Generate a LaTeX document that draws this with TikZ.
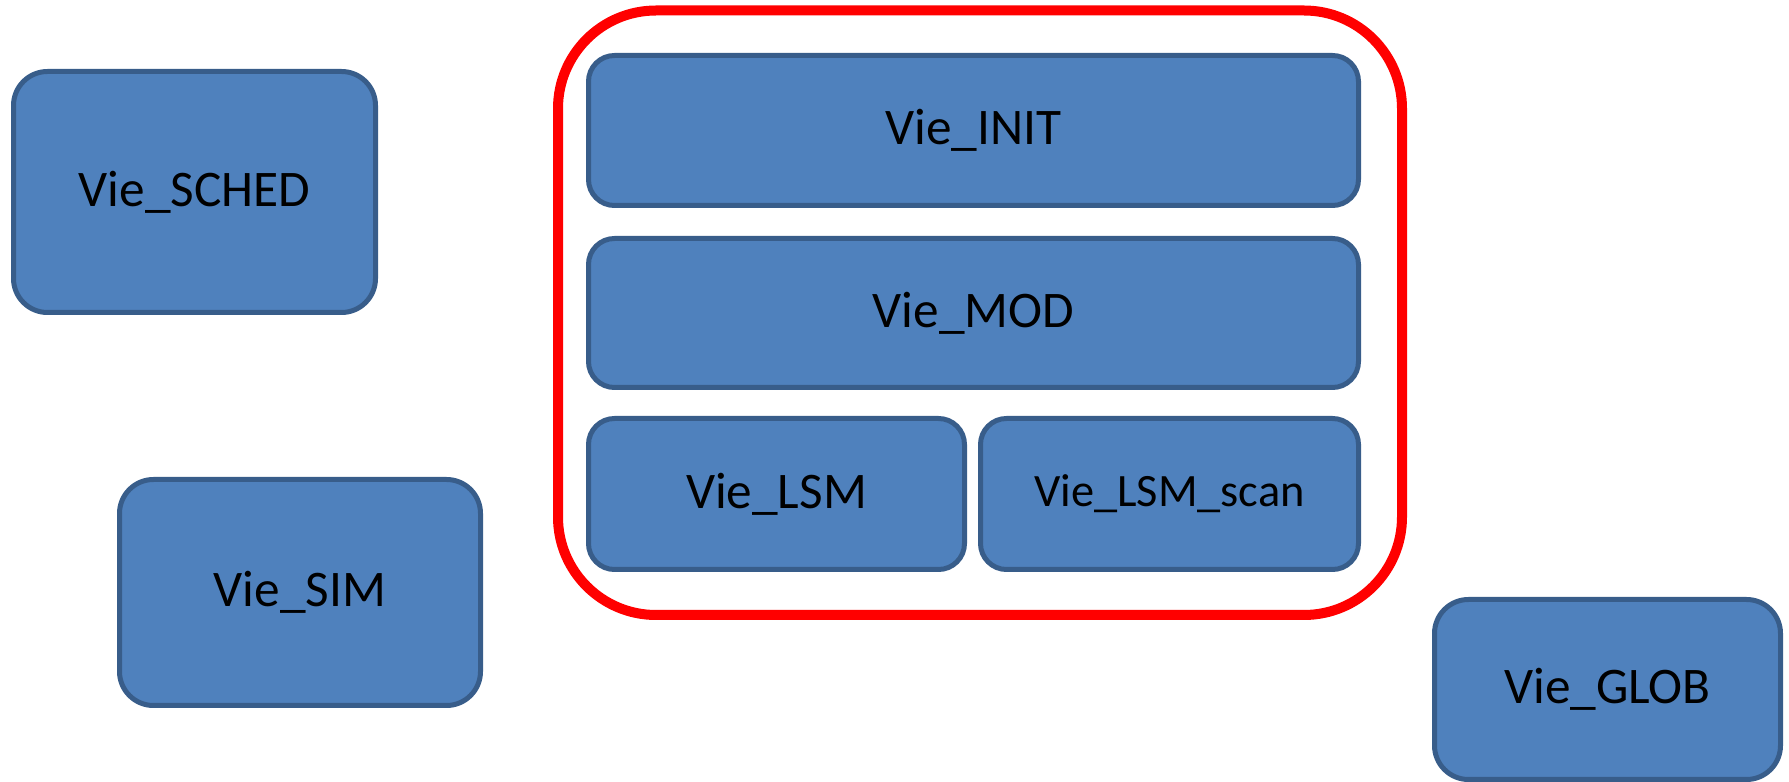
\documentclass[tikz,border=0pt]{standalone}
\usepackage{fontspec}
\setmainfont{Carlito}
\usepackage{xcolor}
\usepackage{tikz}
\usetikzlibrary{positioning}
\definecolor{viefill}{HTML}{4F81BD}
\definecolor{viedraw}{HTML}{385D8A}
\definecolor{vierouge}{HTML}{FF0000}

\begin{document}
\begin{tikzpicture}[
    x=1cm,y=1cm,
    vue/.style    = {rectangle,rounded corners=0.34cm,draw=viedraw,fill=viefill,
                     line width=0.05cm,align=center,font=\fontsize{14.6}{17}\selectfont,
                     text=black,inner sep=0pt},
    vuein/.style  = {vue,rounded corners=0.26cm},
    cadre/.style  = {rectangle,rounded corners=0.98cm,draw=vierouge,
                     line width=0.1cm,inner sep=0pt},
  ]
  \useasboundingbox (0,0) rectangle (17.89,7.82);

  % ── Cadre rouge ─────────────────────────────────────────────────────────
  \node[cadre,minimum width=8.44cm,minimum height=6.045cm] (cadre) at (9.80,4.6925) {};

  % ── Vues internes ───────────────────────────────────────────────────────
  \node[vuein,minimum width=7.70cm,minimum height=1.50cm] (init) at (9.735,6.515) {Vie\_INIT};
  \node[vuein,minimum width=7.70cm,minimum height=1.49cm] (mod) at (9.735,4.69) {Vie\_MOD};
  \node[vuein,minimum width=3.76cm,minimum height=1.51cm] (lsm) at (7.765,2.88) {Vie\_LSM};
  \node[vuein,minimum width=3.78cm,minimum height=1.51cm,
        font=\fontsize{13.2}{16}\selectfont] (lsmscan) at (11.695,2.88) {Vie\_LSM\_scan};

  % ── Vues externes ───────────────────────────────────────────────────────
  \node[vue,minimum width=3.62cm,minimum height=2.41cm] (sched) at (1.945,5.90) {Vie\_SCHED};
  \node[vue,minimum width=3.61cm,minimum height=2.26cm] (sim) at (3.00,1.895) {Vie\_SIM};
  \node[vue,minimum width=3.46cm,minimum height=1.80cm] (glob) at (16.075,0.925) {Vie\_GLOB};

\end{tikzpicture}
\end{document}
